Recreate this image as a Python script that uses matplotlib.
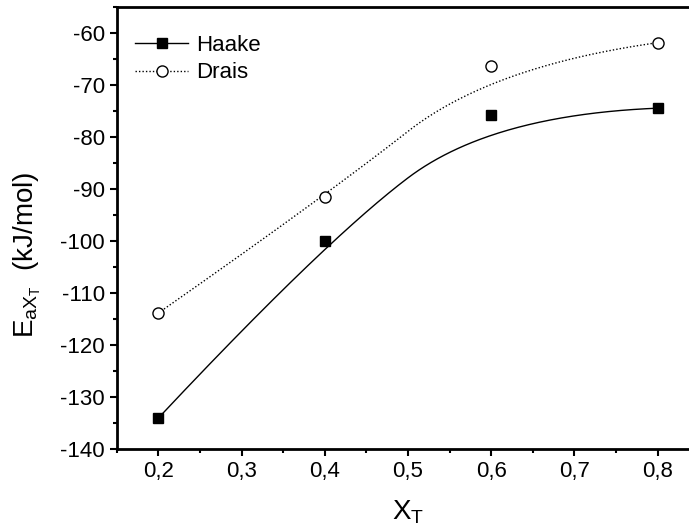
import numpy as np
import matplotlib
matplotlib.use("Agg")
import matplotlib.pyplot as plt
from matplotlib.ticker import MultipleLocator, FuncFormatter

plt.rcParams["font.family"] = ["Liberation Sans", "DejaVu Sans"]
plt.rcParams["mathtext.fontset"] = "custom"
plt.rcParams["mathtext.rm"] = "Liberation Sans"
plt.rcParams["mathtext.it"] = "Liberation Sans"
plt.rcParams["axes.unicode_minus"] = False

# conversion levels and activation energies
x_t = [0.2, 0.4, 0.6, 0.8]
haake = [-134.0, -99.9, -75.7, -74.4]
drais = [-113.8, -91.4, -66.3, -61.8]


def bspline(xs, ys, k=2, n=300):
    # clamped B-spline through the end points, inner points act as control points
    P = np.column_stack([xs, ys])
    m = len(P)
    inner = np.linspace(0, 1, m - k + 1)[1:-1]
    knots = np.concatenate([np.zeros(k + 1), inner, np.ones(k + 1)])
    u = np.linspace(0, 1, n)
    u[-1] -= 1e-12
    # Cox-de Boor recursion
    N = np.array([((knots[i] <= u) & (u < knots[i + 1])).astype(float)
                  for i in range(len(knots) - 1)])
    for d in range(1, k + 1):
        Nn = np.zeros((len(knots) - 1 - d, n))
        for i in range(len(knots) - 1 - d):
            a = knots[i + d] - knots[i]
            b = knots[i + d + 1] - knots[i + 1]
            left = (u - knots[i]) / a * N[i] if a > 0 else 0
            right = (knots[i + d + 1] - u) / b * N[i + 1] if b > 0 else 0
            Nn[i] = left + right
        N = Nn
    C = N.T @ P
    return C[:, 0], C[:, 1]


fig = plt.figure(figsize=(6.89, 5.31), dpi=100)
# axes runs a little past the right edge of the figure
ax = fig.add_axes([116.7 / 689, 81.7 / 531, 582.6 / 689, 442 / 531])

DOT = (0, (1, 1.5))
bx, by = bspline(x_t, haake)
ax.plot(bx, by, color="black", lw=1.0)
ax.plot(x_t, haake, ls="none", marker="s", ms=7.5, color="black")
dx, dy = bspline(x_t, drais)
ax.plot(dx, dy, color="black", lw=1.0, ls=DOT)
ax.plot(x_t, drais, ls="none", marker="o", ms=8, mfc="white", mec="black", mew=1.0)

# legend proxies
ax.plot([], [], color="black", lw=1.0, marker="s", ms=7.5, label="Haake")
ax.plot([], [], color="black", lw=1.0, ls=DOT, marker="o", ms=8,
        mfc="white", mec="black", label="Drais")
ax.legend(loc="upper left", frameon=False, fontsize=16, handlelength=2.4,
          handletextpad=0.35, labelspacing=0.3, borderaxespad=0.0,
          bbox_to_anchor=(0.016, 0.958))

ax.set_xlim(0.15, 0.85)
ax.set_ylim(-140, -55)
ax.xaxis.set_major_locator(MultipleLocator(0.1))
ax.xaxis.set_minor_locator(MultipleLocator(0.05))
ax.yaxis.set_major_locator(MultipleLocator(10))
ax.yaxis.set_minor_locator(MultipleLocator(5))
ax.xaxis.set_major_formatter(FuncFormatter(lambda v, p: f"{v:.1f}".replace(".", ",")))
ax.yaxis.set_major_formatter(FuncFormatter(lambda v, p: f"{v:.0f}" if v <= -60 else ""))

ax.tick_params(which="major", direction="out", length=5, width=1.5, labelsize=16)
ax.tick_params(which="minor", direction="out", length=3, width=1.5)
ax.tick_params(axis="x", which="both", top=False)
ax.spines["right"].set_visible(False)
for s in ("left", "bottom", "top"):
    ax.spines[s].set_linewidth(2)

ax.set_xlabel(r"X$_{\mathrm{T}}$", fontsize=20, labelpad=12)
ax.set_ylabel(r"E$_{\mathrm{a}X_{\mathrm{T}}}$  (kJ/mol)", fontsize=20)
ax.yaxis.set_label_coords(-0.126, 0.44)

fig.savefig("out.png", dpi=100)
